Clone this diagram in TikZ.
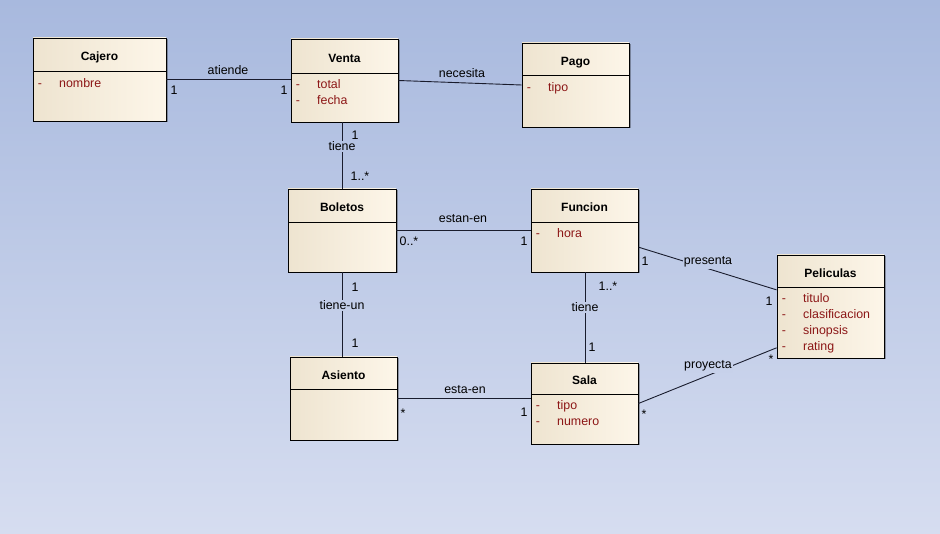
\documentclass[tikz,border=0pt]{standalone}
\usepackage{fontspec}
\setmainfont{Liberation Sans}
\usepackage{tikz}
\usetikzlibrary{shadows}

\definecolor{bgtop}{RGB}{168,185,222}
\definecolor{bgbot}{RGB}{214,221,240}
\definecolor{clsleft}{RGB}{238,228,208}
\definecolor{clsright}{RGB}{253,246,233}
\definecolor{attrred}{RGB}{140,22,22}
\definecolor{linkcol}{RGB}{25,28,45}
\colorlet{bgmid}{bgbot!49!bgtop}
\colorlet{bglow}{bgbot!68!bgtop}

% class box: name, left, top, width, height, header height, title
\newcommand{\umlclass}[7]{%
  \node[classbox, minimum width=#4pt, minimum height=#5pt] (#1) at (#2+#4/2,#3+#5/2) {};
  \draw[sepline] (#2,#3+#6) -- (#2+#4,#3+#6);
  \node[classtitle] (#1-t) at (#2+#4/2,#3+#6/2+6.5) {#7};
}
% attributes: name, left, first baseline, list
\newcommand{\umlattrs}[4]{%
  \foreach \a [count=\i] in {#4} {
    \node[attrdash] (#1-d\i) at (#2+7,#3+16*\i-16) {-};
    \node[attr] (#1-a\i) at (#2+26,#3+16*\i-16) {\a};
  }
}

\begin{document}
\begin{tikzpicture}[
    x=1pt, y=-1pt,
    font=\fontsize{12.4}{14.8}\selectfont,
    classbox/.style={draw=black, line width=0.8pt, inner sep=0pt,
      left color=clsleft, right color=clsright,
      drop shadow={shadow xshift=1.5pt, shadow yshift=-1.5pt, opacity=0.3, fill=black}},
    sepline/.style={black, line width=0.8pt},
    classtitle/.style={font=\fontsize{12}{14.4}\selectfont\bfseries, anchor=base, inner sep=0pt},
    attr/.style={text=attrred, anchor=base west, inner sep=0pt},
    attrdash/.style={text=attrred, anchor=base, inner sep=0pt},
    assoc/.style={draw=linkcol, line width=0.9pt},
    lbl/.style={anchor=base, inner sep=1pt},
    mult/.style={anchor=base, inner sep=0pt}
  ]

  \useasboundingbox (0,0) rectangle (940,534);
  \shade[top color=bgtop, bottom color=bgbot] (0,0) rectangle (940,534);

  % classes
  \umlclass{cajero}{33}{38}{133}{83}{33}{Cajero}
  \umlattrs{cajero}{33}{87.5}{nombre}

  \umlclass{venta}{291}{39}{107}{83}{34}{Venta}
  \umlattrs{venta}{291}{88.5}{total, fecha}

  \umlclass{pago}{522}{43}{107}{84}{32}{Pago}
  \umlattrs{pago}{522}{91.5}{tipo}

  \umlclass{boletos}{288}{189}{108}{83}{33}{Boletos}

  \umlclass{funcion}{531}{189}{107}{83}{33}{Funcion}
  \umlattrs{funcion}{531}{238}{hora}

  \umlclass{peliculas}{777}{255}{107}{103}{32}{Peliculas}
  \umlattrs{peliculas}{777}{303}{titulo, clasificacion, sinopsis, rating}

  \umlclass{asiento}{290}{357}{107}{83}{32}{Asiento}

  \umlclass{sala}{531}{363}{107}{81}{31}{Sala}
  \umlattrs{sala}{531}{410}{tipo, numero}

  % labels that cut vertical links
  \node[lbl] (tieneA) at (342,151) {tiene};
  \node[lbl] (tieneun) at (342,310) {tiene-un};
  \node[lbl] (tieneB) at (585,312) {tiene};

  % associations
  \draw[assoc] (cajero.east) -- (cajero.east -| venta.west);
  \draw[assoc] (venta.east) -- (pago.west);
  \draw[assoc] (venta.south -| tieneA) -- (tieneA) -- (boletos.north -| tieneA);
  \draw[assoc] (boletos) -- (funcion);
  \draw[assoc] (boletos.south -| tieneun) -- (tieneun) -- (asiento.north -| tieneun);
  \draw[assoc] (funcion.south -| tieneB) -- (tieneB) -- (sala.north -| tieneB);
  \draw[assoc] (funcion) -- (peliculas);
  \draw[assoc] (asiento.east) -- (asiento.east -| sala.west);
  \draw[assoc] (sala.east) -- (peliculas.west |- peliculas-a4);

  % association names
  \node[lbl] (atiende) at (228,75) {atiende};
  \node[lbl] (necesita) at (462,78) {necesita};
  \node[lbl] (estanen) at (463,223) {estan-en};
  \node[lbl] (estaen) at (465,394) {esta-en};
  \node[lbl, fill=bgmid] (presenta) at (708,265) {presenta};
  \node[lbl, fill=bglow] (proyecta) at (708,369) {proyecta};

  % multiplicities
  \node[mult] (m1) at (174,95) {1};
  \node[mult] (m2) at (284,95) {1};
  \node[mult] (m3) at (355,140) {1};
  \node[mult] (m4) at (360,181) {1..*};
  \node[mult] (m5) at (409,246) {0..*};
  \node[mult] (m6) at (524,246) {1};
  \node[mult] (m7) at (645,266) {1};
  \node[mult] (m8) at (769,306) {1};
  \node[mult] (m9) at (355,292) {1};
  \node[mult] (m10) at (355,348) {1};
  \node[mult] (m11) at (608,291) {1..*};
  \node[mult] (m12) at (592,352) {1};
  \node[mult] (m13) at (403,418) {*};
  \node[mult] (m14) at (524,417) {1};
  \node[mult] (m15) at (644,419) {*};
  \node[mult] (m16) at (771,364) {*};

\end{tikzpicture}
\end{document}
